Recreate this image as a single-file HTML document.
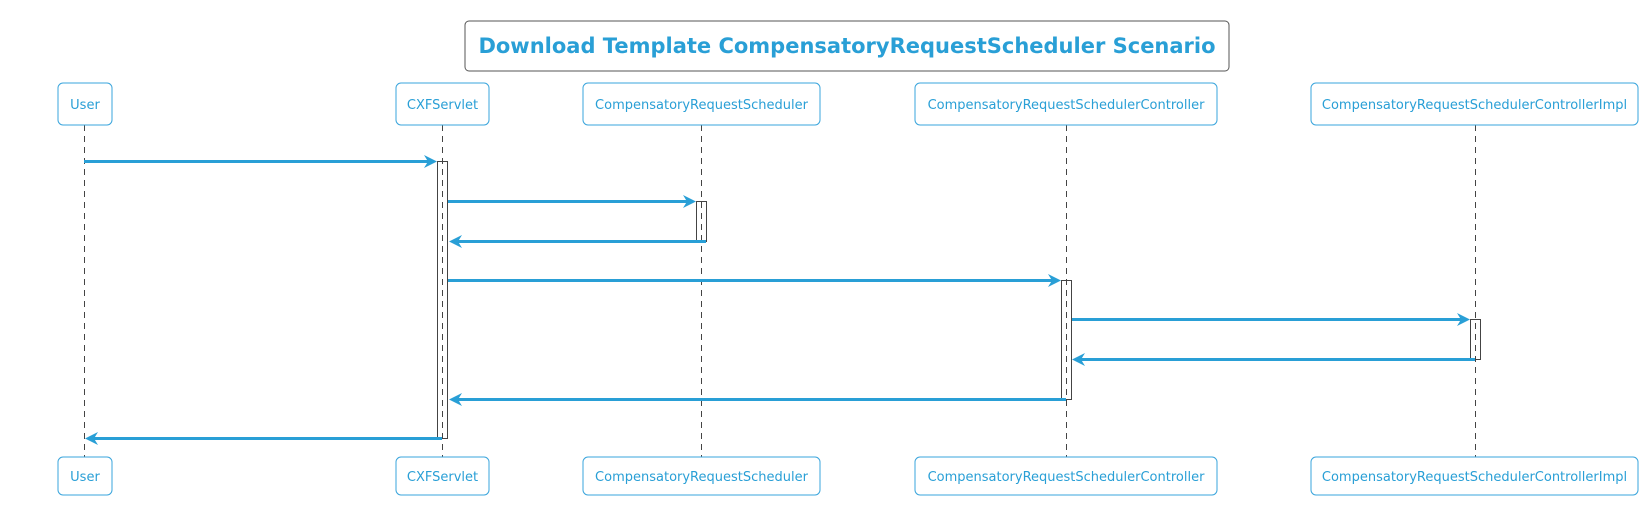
<!DOCTYPE html>
<html><head><meta charset="utf-8"><style>
html,body{margin:0;padding:0;background:#fff;}
svg{display:block;}
text{font-family:"DejaVu Sans","Liberation Sans",sans-serif;fill:#299fd6;}
</style></head><body>
<svg width="1650" height="506" viewBox="0 0 1650 506" xmlns="http://www.w3.org/2000/svg">
<rect x="465" y="21" width="764" height="50" rx="4" fill="#fff" stroke="#555" stroke-width="1"/>
<text x="847" y="53" font-size="21" font-weight="bold" text-anchor="middle">Download Template CompensatoryRequestScheduler Scenario</text>

<g stroke="#444" stroke-width="1" stroke-dasharray="6,5">
<line x1="84.5" y1="125" x2="84.5" y2="457"/>
<line x1="442.5" y1="125" x2="442.5" y2="457"/>
<line x1="701.5" y1="125" x2="701.5" y2="457"/>
<line x1="1066.5" y1="125" x2="1066.5" y2="457"/>
<line x1="1475.5" y1="125" x2="1475.5" y2="457"/>
</g>

<g fill="#fff" stroke="#3aa5dc" stroke-width="1">
<rect x="58" y="83" width="54" height="42" rx="5"/>
<rect x="396" y="83" width="93" height="42" rx="5"/>
<rect x="583" y="83" width="237" height="42" rx="5"/>
<rect x="915" y="83" width="302" height="42" rx="5"/>
<rect x="1311" y="83" width="327" height="42" rx="5"/>
<rect x="58" y="457" width="54" height="38" rx="5"/>
<rect x="396" y="457" width="93" height="38" rx="5"/>
<rect x="583" y="457" width="237" height="38" rx="5"/>
<rect x="915" y="457" width="302" height="38" rx="5"/>
<rect x="1311" y="457" width="327" height="38" rx="5"/>
</g>
<g font-size="13" text-anchor="middle">
<text x="85" y="109">User</text>
<text x="442.5" y="109">CXFServlet</text>
<text x="701.5" y="109">CompensatoryRequestScheduler</text>
<text x="1066" y="109">CompensatoryRequestSchedulerController</text>
<text x="1474.5" y="109">CompensatoryRequestSchedulerControllerImpl</text>
<text x="85" y="481">User</text>
<text x="442.5" y="481">CXFServlet</text>
<text x="701.5" y="481">CompensatoryRequestScheduler</text>
<text x="1066" y="481">CompensatoryRequestSchedulerController</text>
<text x="1474.5" y="481">CompensatoryRequestSchedulerControllerImpl</text>
</g>

<g fill="none" stroke="#444" stroke-width="1">
<rect x="437.5" y="161.5" width="10" height="277"/>
<rect x="696.5" y="201.5" width="10" height="40"/>
<rect x="1061.5" y="280.5" width="10" height="119"/>
<rect x="1470.5" y="319.5" width="10" height="40"/>
</g>

<g stroke="#299fd6" stroke-width="3" fill="none">
<line x1="84" y1="161.5" x2="432" y2="161.5"/>
<line x1="448" y1="201.5" x2="691" y2="201.5"/>
<line x1="706" y1="241.5" x2="454" y2="241.5"/>
<line x1="448" y1="280.5" x2="1056" y2="280.5"/>
<line x1="1072" y1="319.5" x2="1465" y2="319.5"/>
<line x1="1475" y1="359.5" x2="1078" y2="359.5"/>
<line x1="1066" y1="399.5" x2="454" y2="399.5"/>
<line x1="442" y1="438.5" x2="90" y2="438.5"/>
</g>
<g fill="#299fd6">
<path d="M437,161.5 L424,155 L428,161.5 L424,168 Z"/>
<path d="M696,201.5 L683,195 L687,201.5 L683,208 Z"/>
<path d="M449,241.5 L462,235 L458,241.5 L462,248 Z"/>
<path d="M1061,280.5 L1048,274 L1052,280.5 L1048,287 Z"/>
<path d="M1470,319.5 L1457,313 L1461,319.5 L1457,326 Z"/>
<path d="M1072,359.5 L1085,353 L1081,359.5 L1085,366 Z"/>
<path d="M449,399.5 L462,393 L458,399.5 L462,406 Z"/>
<path d="M85,438.5 L98,432 L94,438.5 L98,445 Z"/>
</g>
</svg>
</body></html>
